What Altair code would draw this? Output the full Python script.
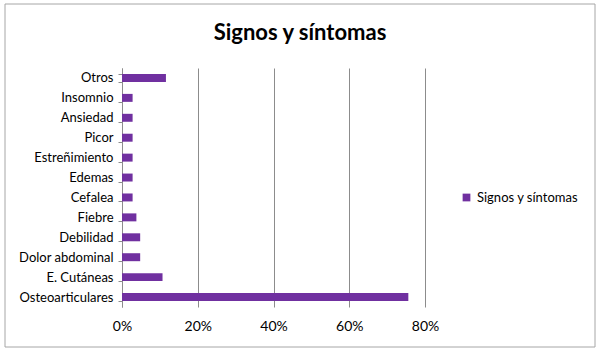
import altair as alt
import pandas as pd

categories = ["Otros", "Insomnio", "Ansiedad", "Picor", "Estreñimiento", "Edemas",
              "Cefalea", "Fiebre", "Debilidad", "Dolor abdominal", "E. Cutáneas",
              "Osteoarticulares"]
values = [0.116, 0.028, 0.028, 0.028, 0.028, 0.028, 0.028, 0.038, 0.048, 0.048, 0.107, 0.756]
series = "Signos y síntomas"
x_ticks = [0, 0.2, 0.4, 0.6, 0.8]

df = pd.DataFrame({"cat": categories, "val": values, "serie": [series] * len(categories)})

FONT = "Lato"

bars = alt.Chart(df).mark_bar(color="#7030A0").encode(
    x=alt.X("val:Q",
            scale=alt.Scale(domain=[0, 0.8], nice=False),
            axis=alt.Axis(values=x_ticks, format=".0%", title=None, domain=False,
                          ticks=False, grid=True, gridColor="#8c8c8c", gridWidth=1,
                          labelFont=FONT, labelFontSize=14, labelColor="#000000",
                          labelFlush=False, labelPadding=12)),
    y=alt.Y("cat:N", sort=categories,
            scale=alt.Scale(paddingInner=0.6, paddingOuter=0.3),
            axis=alt.Axis(title=None, tickBand="extent", tickSize=4, tickColor="#8c8c8c",
                          domainColor="#8c8c8c", labelFont=FONT, labelFontSize=13,
                          labelColor="#000000", labelPadding=5)),
    color=alt.Color("serie:N", scale=alt.Scale(range=["#7030A0"]),
                    legend=alt.Legend(title=None, orient="none", legendX=338, legendY=123,
                                      symbolType="square", symbolSize=60,
                                      labelFont=FONT, labelFontSize=13, labelColor="#000000",
                                      symbolStrokeWidth=0)),
)

frame_data = alt.Data(values=[{"k": 1, "t": series}])
frame_color = "#a6a6a6"
frame = alt.layer(
    alt.Chart(frame_data).mark_rule(color=frame_color).encode(
        x=alt.value(-117), x2=alt.value(473), y=alt.value(-64)),
    alt.Chart(frame_data).mark_rule(color=frame_color).encode(
        x=alt.value(-117), x2=alt.value(473), y=alt.value(279)),
    alt.Chart(frame_data).mark_rule(color=frame_color).encode(
        x=alt.value(-117), y=alt.value(-64), y2=alt.value(279)),
    alt.Chart(frame_data).mark_rule(color=frame_color).encode(
        x=alt.value(473), y=alt.value(-64), y2=alt.value(279)),
    alt.Chart(frame_data).mark_text(font=FONT, fontSize=22, fontWeight="bold",
                                    color="#000000", align="center", baseline="middle").encode(
        text="t:N", x=alt.value(178), y=alt.value(-35)),
)

chart = alt.layer(bars, frame).properties(
    width=303,
    height=239,
    background="#ffffff",
    autosize=alt.AutoSizeParams(type="none"),
    padding={"left": 122, "top": 68, "right": 174, "bottom": 46},
).configure_view(stroke=None)

chart.save("out.html", embed_options={"renderer": "svg", "actions": False})
